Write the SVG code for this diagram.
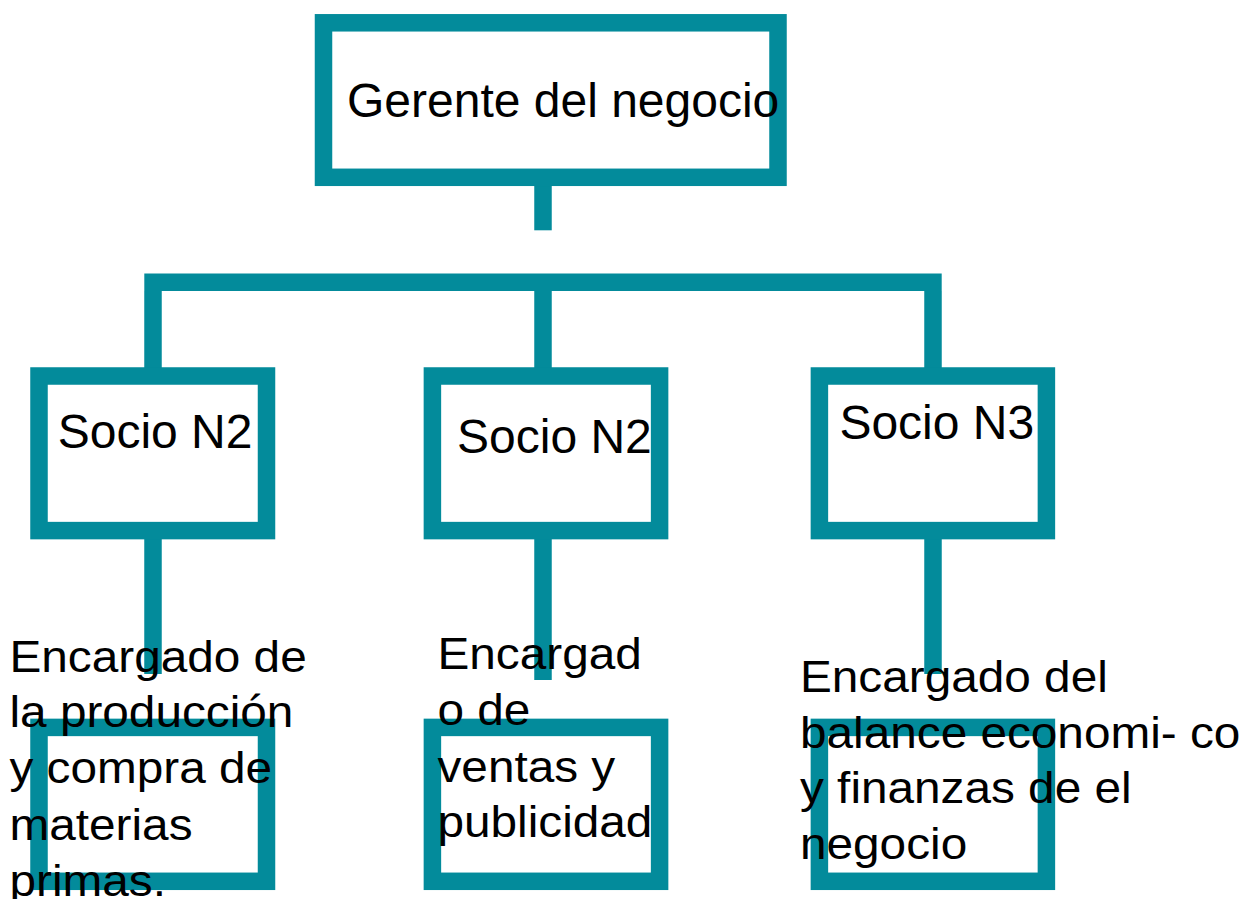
<svg xmlns="http://www.w3.org/2000/svg" width="1248" height="899" viewBox="0 0 1248 899">
<style>
.box{fill:#fff;stroke:#038B9B;stroke-width:17.5}
.con{stroke:#038B9B;stroke-width:17.5;fill:none;stroke-linecap:butt}
.t{font-family:"Liberation Sans",Arial,sans-serif;fill:#000}
.h{font-size:48px}
.s{font-size:44px}
</style>
<rect width="1248" height="899" fill="#fff"/>
<g id="connectors">
<line class="con" x1="543" y1="186" x2="543" y2="230.3"/>
<line class="con" x1="144.3" y1="282.2" x2="941.7" y2="282.2"/>
<line class="con" x1="153" y1="291" x2="153" y2="368"/>
<line class="con" x1="543" y1="291" x2="543" y2="368"/>
<line class="con" x1="933" y1="291" x2="933" y2="368"/>
<line class="con" x1="153" y1="539" x2="153" y2="674"/>
<line class="con" x1="543" y1="539" x2="543" y2="680"/>
<line class="con" x1="933" y1="539" x2="933" y2="674"/>
</g>
<g id="gerente">
<rect class="box" x="323.5" y="22.8" width="454.5" height="154.5"/>
</g>
<g id="socio1">
<rect class="box" x="39" y="376" width="227.5" height="154.6"/>
</g>
<g id="socio2">
<rect class="box" x="432.4" y="376" width="227.2" height="154.6"/>
</g>
<g id="socio3">
<rect class="box" x="819.4" y="376" width="227" height="154.6"/>
</g>
<g id="encargado1">
<rect class="box" x="39" y="727.4" width="227.5" height="153.9"/>
</g>
<g id="encargado2">
<rect class="box" x="432.4" y="727.4" width="227.2" height="153.9"/>
</g>
<g id="encargado3">
<rect class="box" x="819.4" y="727.4" width="227" height="153.9"/>
</g>
<g id="labels">
<text class="t h" x="347" y="116.7">Gerente del negocio</text>
<text class="t h" x="57.7" y="448.3">Socio N2</text>
<text class="t h" x="457" y="452.7">Socio N2</text>
<text class="t h" x="839.4" y="439">Socio N3</text>
<text class="t s" transform="translate(9.5 0) scale(1.085 1)">
<tspan x="0" y="671.7">Encargado de</tspan>
<tspan x="0" y="727.5">la producción</tspan>
<tspan x="0" y="783.3">y compra de</tspan>
<tspan x="0" y="840">materias</tspan>
<tspan x="0" y="896">primas.</tspan>
</text>
<text class="t s" transform="translate(437.5 0) scale(1.085 1)">
<tspan x="0" y="669">Encargad</tspan>
<tspan x="0" y="725">o de</tspan>
<tspan x="0" y="781.7">ventas y</tspan>
<tspan x="0" y="836.7">publicidad</tspan>
</text>
<text class="t s" transform="translate(800 0) scale(1.085 1)">
<tspan x="0" y="691.7">Encargado del</tspan>
<tspan x="0" y="747.7">balance economi- co</tspan>
<tspan x="0" y="803.3">y finanzas de el</tspan>
<tspan x="0" y="859.3">negocio</tspan>
</text>
</g>
</svg>
